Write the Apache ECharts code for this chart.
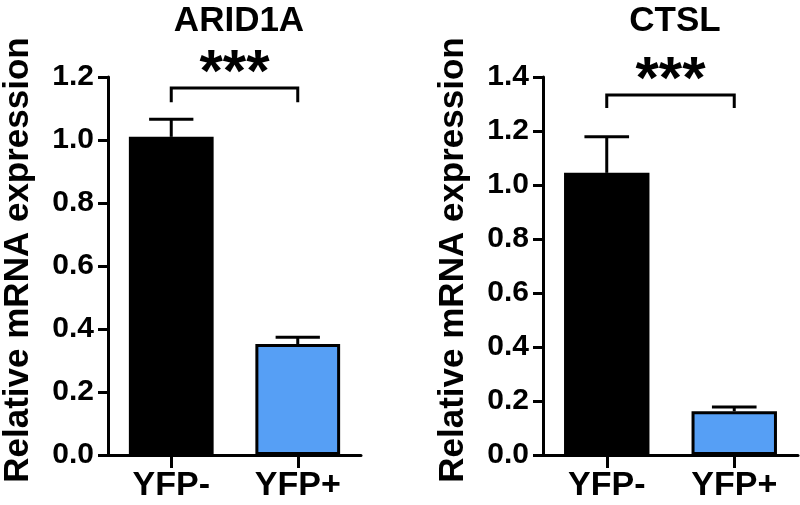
<!DOCTYPE html>
<html><head><meta charset="utf-8">
<script src="https://cdn.jsdelivr.net/npm/echarts@6/dist/echarts.min.js"></script>
<style>html,body{margin:0;padding:0;background:#fff}#c{width:800px;height:505px}</style>
</head><body><div id="c"></div>
<script>
const categories = ['YFP-', 'YFP+'];
const panelTitles = ['ARID1A', 'CTSL'];
const arid1aMean = [1.01, 0.352];
const arid1aErr = [0.056, 0.022];
const ctslMean = [1.045, 0.162];
const ctslErr = [0.134, 0.016];
const arid1aAxis = [0, 1.2, 0.2];   // min, max, interval
const ctslAxis = [0, 1.4, 0.2];
const arid1aBracket = [1.165, 1.12]; // bar level, leg end
const ctslBracket = [1.333, 1.285];
const sigLabel = '***';
const barColors = ['#000000', '#569ff5'];

const FONT = "'Liberation Sans', Arial, Helvetica, sans-serif";

function errRender(params, api) {
  const x = api.value(0), m = api.value(1), e = api.value(2);
  const p0 = api.coord([x, m]);
  const p1 = api.coord([x, m + e]);
  const half = api.size([1, 0])[0] * 0.175;
  return {
    type: 'group',
    children: [
      { type: 'line', shape: { x1: p0[0], y1: p0[1], x2: p1[0], y2: p1[1] }, style: { stroke: '#000', lineWidth: 3 } },
      { type: 'line', shape: { x1: p1[0] - half, y1: p1[1], x2: p1[0] + half, y2: p1[1] }, style: { stroke: '#000', lineWidth: 3 } }
    ]
  };
}

function bracketRender(params, api) {
  const y = api.value(2), yl = api.value(3);
  const a0 = api.coord([api.value(0), yl]);
  const a1 = api.coord([api.value(0), y]);
  const b1 = api.coord([api.value(1), y]);
  const b0 = api.coord([api.value(1), yl]);
  const mx = (a1[0] + b1[0]) / 2;
  return {
    type: 'group',
    children: [
      { type: 'polyline', shape: { points: [a0, a1, b1, b0] }, style: { stroke: '#000', lineWidth: 3, fill: null } },
      { type: 'text', x: mx, y: a1[1] - 14, style: { text: sigLabel, fill: '#000', font: 'bold 60px ' + FONT, align: 'center', verticalAlign: 'middle' } }
    ]
  };
}

function yAxisCfg(gi, ax) {
  return {
    gridIndex: gi, type: 'value', min: ax[0], max: ax[1], interval: ax[2],
    name: 'Relative mRNA expression', nameLocation: 'middle', nameGap: 72,
    nameTextStyle: { fontFamily: FONT, fontWeight: 'bold', fontSize: 35, color: '#000', padding: [0, 0, 0, 12] },
    axisLine: { show: true, lineStyle: { color: '#000', width: 3 } },
    axisTick: { show: true, inside: false, length: 10, lineStyle: { color: '#000', width: 3 } },
    axisLabel: { formatter: v => v.toFixed(1), fontFamily: FONT, fontWeight: 'bold', fontSize: 30, color: '#000', margin: 14 },
    splitLine: { show: false }
  };
}
function xAxisCfg(gi) {
  return {
    gridIndex: gi, type: 'category', data: categories,
    axisLine: { show: true, lineStyle: { color: '#000', width: 3 } },
    axisTick: { show: true, alignWithLabel: true, length: 13, lineStyle: { color: '#000', width: 3 } },
    axisLabel: { fontFamily: FONT, fontWeight: 'bold', fontSize: 34, color: '#000', margin: 14 },
    splitLine: { show: false }
  };
}
function barSeries(gi, means) {
  return {
    type: 'bar', xAxisIndex: gi, yAxisIndex: gi, barWidth: '67%',
    data: means.map((v, i) => ({ value: v, itemStyle: { color: barColors[i], borderColor: '#000', borderWidth: 3 } })),
    z: 2
  };
}
function errSeries(gi, means, errs) {
  return {
    type: 'custom', xAxisIndex: gi, yAxisIndex: gi, renderItem: errRender, z: 3, clip: false,
    data: means.map((v, i) => [i, v, errs[i]])
  };
}
function bracketSeries(gi, br) {
  return {
    type: 'custom', xAxisIndex: gi, yAxisIndex: gi, renderItem: bracketRender, z: 3, clip: false,
    data: [[0, 1, br[0], br[1]]]
  };
}

const chart = echarts.init(document.getElementById('c'), null, { renderer: 'canvas' });
chart.setOption({
  animation: false,
  backgroundColor: '#fff',
  title: [
    { text: panelTitles[0], left: 234, top: -1, textAlign: 'center', textStyle: { fontFamily: FONT, fontWeight: 'bold', fontSize: 35, color: '#000' } },
    { text: panelTitles[1], left: 670, top: -1, textAlign: 'center', textStyle: { fontFamily: FONT, fontWeight: 'bold', fontSize: 35, color: '#000' } }
  ],
  grid: [
    { left: 107, right: 439, top: 77, bottom: 50 },
    { left: 543, right: 2, top: 77, bottom: 50 }
  ],
  xAxis: [xAxisCfg(0), xAxisCfg(1)],
  yAxis: [yAxisCfg(0, arid1aAxis), yAxisCfg(1, ctslAxis)],
  series: [
    barSeries(0, arid1aMean), errSeries(0, arid1aMean, arid1aErr), bracketSeries(0, arid1aBracket),
    barSeries(1, ctslMean), errSeries(1, ctslMean, ctslErr), bracketSeries(1, ctslBracket)
  ]
});
</script></body></html>
